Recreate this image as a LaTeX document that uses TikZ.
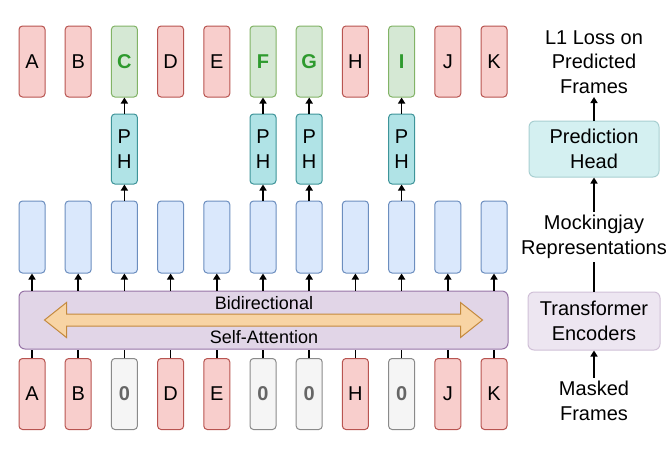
\documentclass[tikz,border=0pt]{standalone}
\usepackage{fontspec}
\setmainfont{Liberation Sans}
\usetikzlibrary{arrows.meta}

\definecolor{redfill}{HTML}{F8CECC}
\definecolor{redline}{HTML}{B85450}
\definecolor{greenfill}{HTML}{D5E8D4}
\definecolor{greenline}{HTML}{82B366}
\definecolor{greentext}{HTML}{2E9A2E}
\definecolor{bluefill}{HTML}{DAE8FC}
\definecolor{blueline}{HTML}{6C8EBF}
\definecolor{purplefill}{HTML}{E1D5E7}
\definecolor{purpleline}{HTML}{9673A6}
\definecolor{tealfill}{HTML}{B0E3E6}
\definecolor{tealline}{HTML}{3E9499}
\definecolor{grayfill}{HTML}{F5F5F5}
\definecolor{grayline}{HTML}{8A8A8A}
\definecolor{graytext}{HTML}{666666}
\definecolor{orangefill}{HTML}{F8D4A4}
\definecolor{orangeline}{HTML}{C48A3E}

\begin{document}
\begin{tikzpicture}
    [x=1pt,y=-1pt,
     every node/.style={font=\fontsize{20}{24.5}\selectfont, align=center},
     frame/.style={draw=redline, fill=redfill, rounded corners=3.5pt, line width=1pt,
                   minimum width=26pt, minimum height=71pt, inner sep=0pt},
     target/.style={frame, draw=greenline, fill=greenfill, text=greentext, font=\fontsize{20}{24.5}\selectfont\bfseries},
     masked/.style={frame, draw=grayline, fill=grayfill, text=graytext, font=\fontsize{20}{24.5}\selectfont\bfseries},
     repbox/.style={frame, draw=blueline, fill=bluefill, minimum height=72pt},
     headbox/.style={frame, draw=tealline, fill=tealfill, minimum height=70pt},
     arr/.style={line width=1.5pt, -{Triangle[length=6pt,width=7pt]}},
     link/.style={line width=1.5pt}]
      \useasboundingbox (0,0) rectangle (671,456);

      % predicted frames
      \foreach \i/\l/\s in {0/A/frame,1/B/frame,2/C/target,3/D/frame,4/E/frame,5/F/target,
                            6/G/target,7/H/frame,8/I/target,9/J/frame,10/K/frame}
	\node (t\i)[\s] at (32+46.2*\i,61.5) {\l};

      % masked input frames
      \foreach \i/\l/\s in {0/A/frame,1/B/frame,2/0/masked,3/D/frame,4/E/frame,5/0/masked,
                            6/0/masked,7/H/frame,8/0/masked,9/J/frame,10/K/frame}
	\node (m\i)[\s] at (32+46.2*\i,394) {\l};

      % representations
      \foreach \i in {0,...,10}
	\node (r\i)[repbox] at (32+46.2*\i,237) {};

      % prediction heads
      \foreach \i in {2,5,6,8}
	\node (h\i)[headbox] at (32+46.2*\i,149) {P\\H};

      \node (enc)[draw=purpleline, fill=purplefill, line width=1pt, rounded corners=6pt,
                  minimum width=489pt, minimum height=58pt] at (263.5,320) {};
      \draw[draw=orangeline, fill=orangefill, line width=1pt]
        ([xshift=-219pt]enc.center) -- ++(22,-17.5) -- ++(0,11.5) -- ++(394,0) -- ++(0,-11.5)
        -- ++(22,17.5) -- ++(-22,17.5) -- ++(0,-11.5) -- ++(-394,0) -- ++(0,11.5) -- cycle;
      \node (bi)[font=\fontsize{18}{22}\selectfont]   at (264,303) {Bidirectional};
      \node (sa)[font=\fontsize{18}{22}\selectfont]   at (264,337) {Self-Attention};

      \foreach \i in {0,...,10}
	\draw[arr] (enc.north -| r\i) -- (r\i.south);
      \foreach \i in {0,...,10}
	\draw[link] (m\i.north) -- (m\i.north |- enc.south);
      \foreach \i in {2,5,6,8}
	{\draw[arr] (r\i.north) -- (h\i.south);
	 \draw[arr] (h\i.north) -- (t\i.south);}

      % legend column
      \node (loss)  at (594,62)  {L1 Loss on\\Predicted\\Frames};
      \node (pred)[draw=tealline!45, fill=tealfill!55, line width=1pt, rounded corners=6pt,
                   minimum width=130pt, minimum height=56pt, inner sep=0pt] at (594,149) {Prediction\\Head};
      \node (rep)   at (594,237) {Mockingjay\\Representations};
      \node (tenc)[draw=purpleline!45, fill=purplefill!60, line width=1pt, rounded corners=6pt,
                   minimum width=132pt, minimum height=58pt, inner sep=0pt] at (594,321) {Transformer\\Encoders};
      \node (mask)  at (594,401) {Masked\\Frames};

      \draw[arr]  (pred.north) -- (loss.south);
      \draw[arr]  (rep.north)  -- (pred.south);
      \draw[link] (rep.south)  -- (tenc.north);
      \draw[arr]  (mask.north) -- (tenc.south);
    \end{tikzpicture}
\end{document}
